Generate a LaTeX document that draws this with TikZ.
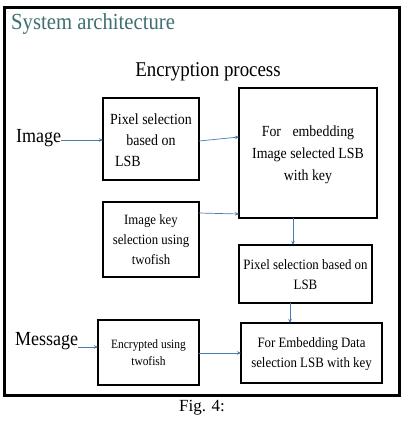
\documentclass[tikz,border=0pt]{standalone}
\usepackage{fontspec}
\setmainfont{Liberation Serif}
\newfontfamily\cond[FakeStretch=0.9]{Liberation Serif}
\usetikzlibrary{arrows.meta}
\definecolor{titlec}{HTML}{3F6F73}
\definecolor{arrc}{HTML}{4A7AB0}
\tikzset{
  x=1pt, y=-1pt,
  boxn/.style={draw=black, line width=1.3pt, fill=white},
  lbl/.style={inner sep=0pt, font=\cond, align=center},
  conn/.style={draw=arrc, line width=0.7pt, -{Stealth[length=4pt,width=3.5pt]}}
}
\begin{document}
\begin{tikzpicture}
\useasboundingbox (0,0) rectangle (402,424);
\fill[white] (0,0) rectangle (402,424);
\draw[line width=3pt] (4,7) rectangle (399,395);
\node[anchor=west, inner sep=0pt, text=titlec, font=\cond\fontsize{23}{26}\selectfont] (title) at (11,24) {System architecture};
\node[lbl, font=\cond\fontsize{21}{24}\selectfont] (enc) at (208,72) {Encryption process};
% boxes
\draw[boxn] (103,98) rectangle (199,180);
\node[lbl, font=\cond\fontsize{15.5}{21}\selectfont] (b1) at (151,140) {Pixel selection\\based on\\LSB\hspace*{46pt}};
\draw[boxn] (239,88) rectangle (377,218);
\node[lbl, font=\cond\fontsize{15.4}{22}\selectfont] (b2) at (308,155) {For\hspace{8pt} embedding\\Image selected LSB\\with key};
\draw[boxn] (103,202) rectangle (199,277);
\node[lbl, font=\cond\fontsize{14.2}{20}\selectfont] (b3) at (151,240) {Image key\\selection using\\twofish};
\draw[boxn] (239,245) rectangle (372,303);
\node[lbl, font=\cond\fontsize{14.3}{20}\selectfont] (b4) at (305.5,275) {Pixel selection based on\\LSB};
\draw[boxn] (98,320) rectangle (199,385);
\node[lbl, font=\cond\fontsize{12.7}{17}\selectfont] (b5) at (148.5,353) {Encrypted using\\twofish};
\draw[boxn] (241,323) rectangle (382,383);
\node[lbl, font=\cond\fontsize{14.3}{20}\selectfont] (b6) at (311.5,354) {For Embedding Data\\selection LSB with key};
% coordinates on box edges
\coordinate (b1r) at (199,141);
\coordinate (b2l) at (239,137);
\coordinate (b3r) at (199,213);
\coordinate (b2l2) at (239,214);
\coordinate (b2b) at (293,218);
\coordinate (b4t) at (293,245);
\coordinate (b4b) at (290,303);
\coordinate (b6t) at (290,323);
\coordinate (b5r) at (199,353);
\coordinate (b6l) at (241,353);
\coordinate (b1l) at (103,140);
\coordinate (b5l) at (98,347);
% labels
\node[anchor=west, inner sep=0pt, font=\cond\fontsize{20}{23}\selectfont] (img) at (16,138) {Image};
\node[anchor=west, inner sep=0pt, font=\cond\fontsize{20}{23}\selectfont] (msg) at (15,341) {Message};
% connectors
\draw[conn] (img.east |- b1l) -- (b1l);
\draw[conn] (b1r) -- (b2l);
\draw[conn] (b3r) -- (b2l2);
\draw[conn] (b2b) -- (b4t);
\draw[conn] (b4b) -- (b6t);
\draw[conn] (msg.east |- b5l) -- (b5l);
\draw[conn] (b5r) -- (b6l);
\node[font=\fontsize{17}{19}\selectfont, inner sep=0pt] (cap) at (202,408) {Fig. 4:};
\end{tikzpicture}
\end{document}
